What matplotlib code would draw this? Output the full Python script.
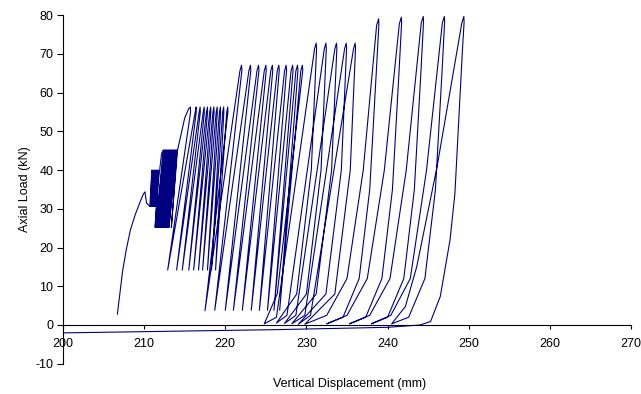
import numpy as np
import matplotlib
matplotlib.use("Agg")
import matplotlib.pyplot as plt

plt.rcParams['font.family'] = ['Liberation Sans', 'DejaVu Sans']
plt.rcParams['axes.unicode_minus'] = False

# initial loading up to ~34 kN
init_disp = [206.7, 207.0, 207.35, 207.8, 208.3, 208.9, 209.5, 209.9, 210.1, 210.3, 210.7]
init_load = [2.8, 8.0, 14.0, 19.5, 24.5, 28.5, 31.8, 33.8, 34.4, 31.5, 30.6]

# 40 kN cycles (valley 30.6 kN)
s40_disp = [210.95, 210.8, 211.05, 210.9, 211.15, 211.0, 211.25, 211.1, 211.35, 211.2,
            211.45, 211.3, 211.55, 211.4, 211.65, 211.5, 211.75, 211.35]
s40_load = [40.0, 30.6, 40.0, 30.6, 40.0, 30.6, 40.0, 30.6, 40.0, 30.6,
            40.0, 30.6, 40.0, 30.6, 40.0, 30.6, 40.0, 25.2]

# 45 kN cycles (valley 25.2 kN)
s45_disp = [211.8, 212.15, 212.35, 211.45, 212.45, 211.55, 212.55, 211.65, 212.65, 211.75,
            212.75, 211.85, 212.85, 211.95, 212.95, 212.05, 213.05, 212.15, 213.15, 212.25,
            213.25, 212.35, 213.35, 212.45, 213.45, 212.55, 213.55, 212.65, 213.65, 212.75,
            213.75, 212.85, 213.85, 212.95, 213.95, 213.05, 214.05, 213.35]
s45_load = [38.0, 44.3, 45.2, 25.2, 45.2, 25.2, 45.2, 25.2, 45.2, 25.2,
            45.2, 25.2, 45.2, 25.2, 45.2, 25.2, 45.2, 25.2, 45.2, 25.2,
            45.2, 25.2, 45.2, 25.2, 45.2, 25.2, 45.2, 25.2, 45.2, 25.2,
            45.2, 25.2, 45.2, 25.2, 45.2, 25.2, 45.2, 25.2]

# 56 kN cycles (valley 14.2 kN)
s56_disp = [214.1, 215.0, 215.5, 215.7, 215.72, 212.9,
            216.28, 216.4, 216.42, 214.0,
            216.78, 216.9, 216.92, 214.7,
            217.28, 217.4, 217.42, 215.5,
            217.68, 217.8, 217.82, 216.1,
            218.08, 218.2, 218.22, 216.7,
            218.48, 218.6, 218.62, 217.2,
            218.88, 219.0, 219.02, 217.8,
            219.28, 219.4, 219.42, 218.3,
            219.68, 219.8, 219.82, 218.8,
            220.18, 220.3, 220.32, 217.5]
s56_load = [45.0, 53.5, 55.9, 56.3, 55.0, 14.2] + [55.0, 56.3, 55.0, 14.2] * 9 + [55.0, 56.3, 55.0, 3.7]

# 67 kN cycles (valley 3.8 kN)
s67_disp = [221.8, 222.0, 222.05, 218.7,
            222.9, 223.1, 223.15, 220.0,
            223.9, 224.1, 224.15, 221.0,
            224.8, 225.0, 225.05, 222.1,
            225.6, 225.8, 225.85, 223.2,
            226.4, 226.6, 226.65, 224.2,
            227.3, 227.5, 227.55, 225.2,
            228.1, 228.3, 228.35, 226.0,
            228.7, 228.9, 228.95, 226.7,
            229.3, 229.5, 229.55, 226.4, 224.8]
s67_load = [65.6, 67.1, 65.8, 3.8] * 9 + [65.6, 67.1, 65.8, 8.0, 0.3]

# 73 kN cycles (unloading close to zero)
s73_disp = [226.3, 231.0, 231.2, 231.25, 230.6, 228.8, 226.3,
            227.6, 232.2, 232.4, 232.45, 231.8, 230.0, 227.3,
            228.7, 233.5, 233.7, 233.75, 233.1, 231.2, 228.2,
            229.8, 234.7, 234.9, 234.95, 234.3, 232.4, 229.0,
            230.5, 235.8, 236.0, 236.05, 235.4, 233.5, 229.8]
s73_load = [2.0, 71.3, 72.8, 71.5, 40.0, 8.0, 0.5,
            2.5, 71.3, 72.8, 71.5, 40.0, 8.0, 0.4,
            2.5, 71.3, 72.8, 71.5, 40.0, 8.0, 0.3,
            2.5, 71.3, 72.8, 71.5, 40.0, 8.0, 0.2,
            2.5, 71.3, 72.8, 71.5, 40.0, 8.0, 0.2]

# 80 kN cycles
s80_disp = [232.5, 235.0, 237.0, 238.65, 238.9, 238.93, 238.6, 237.8, 236.5, 234.5, 232.5,
            235.0, 237.5, 239.6, 241.45, 241.7, 241.73, 241.4, 240.6, 239.3, 237.3, 235.3,
            237.8, 240.3, 242.3, 244.15, 244.4, 244.43, 244.1, 243.3, 242.0, 240.0, 238.0,
            240.4, 242.8, 244.8, 246.75, 247.0, 247.03, 246.7, 245.9, 244.6, 242.6, 240.5,
            242.2, 243.6, 246.1, 249.15, 249.4, 249.43, 249.2, 248.3, 247.7, 246.5, 245.3, 244.0]
s80_load = [2.5, 12.0, 40.0, 77.4, 79.1, 77.6, 65.0, 35.0, 12.0, 2.0, 0.3,
            2.5, 12.0, 40.0, 77.8, 79.5, 78.0, 65.0, 35.0, 12.0, 2.0, 0.3,
            2.5, 12.0, 40.0, 78.0, 79.7, 78.2, 65.0, 35.0, 12.0, 2.0, 0.3,
            2.5, 12.0, 40.0, 78.0, 79.7, 78.2, 65.0, 35.0, 12.0, 2.0, 0.3,
            4.8, 15.1, 40.9, 78.0, 79.7, 78.2, 70.0, 34.0, 22.0, 7.4, 0.9, 0.0]

# final return line
end_disp = [240.0, 226.3, 195.0]
end_load = [-0.6, -1.2, -2.2]

disp = np.concatenate([init_disp, s40_disp, s45_disp, s56_disp, s67_disp,
                       s73_disp, s80_disp, end_disp])
load = np.concatenate([init_load, s40_load, s45_load, s56_load, s67_load,
                       s73_load, s80_load, end_load])

fig = plt.figure(figsize=(6.41, 3.94), dpi=100)
ax = fig.add_axes([0.0983, 0.0769, 0.8861, 0.8843])
ax.plot(disp, load, color='#000080', lw=0.8, solid_joinstyle='round')

ax.set_xlim(200, 270)
ax.set_ylim(-10, 80)
ax.set_xticks(np.arange(200, 271, 10))
ax.set_yticks(np.arange(-10, 81, 10))
ax.spines['top'].set_visible(False)
ax.spines['right'].set_visible(False)
ax.spines['bottom'].set_position(('data', 0))
ax.tick_params(axis='x', direction='out', length=3, pad=6.5, labelsize=9)
ax.tick_params(axis='y', direction='out', length=4, pad=3, labelsize=9)
ax.set_xlabel('Vertical Displacement (mm)', fontsize=9)
ax.set_ylabel('Axial Load (kN)', fontsize=9)
ax.xaxis.set_label_coords(0.505, -0.04)
ax.yaxis.set_label_coords(-0.056, 0.5)

fig.savefig('out.png', dpi=100)
